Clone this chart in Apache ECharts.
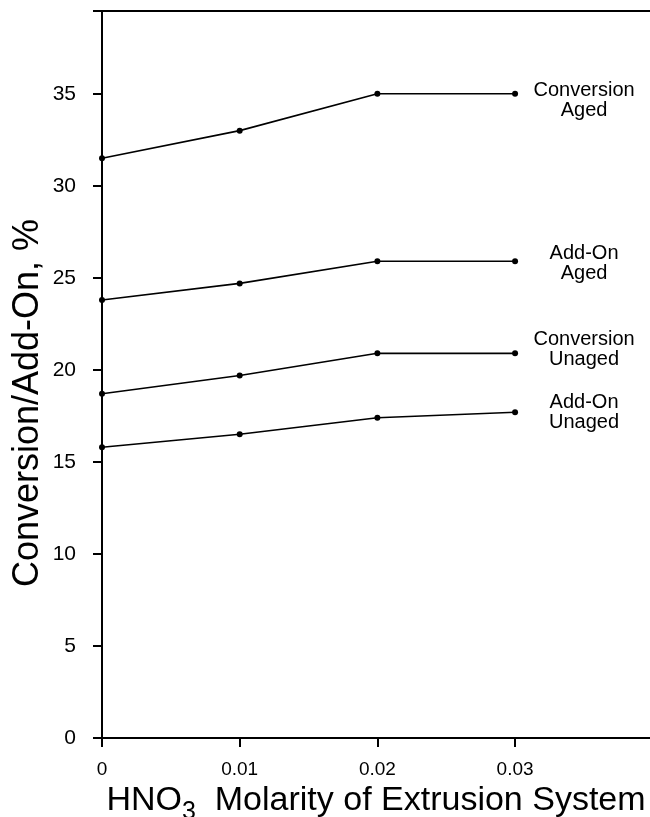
<!DOCTYPE html>
<html>
<head>
<meta charset="utf-8">
<script src="https://cdn.jsdelivr.net/npm/echarts@6/dist/echarts.min.js"></script>
<style>
    html, body { margin: 0; padding: 0; background: #fff; }
    #chart { width: 650px; height: 817px; }
</style>
</head>
<body>
<div id="chart"></div>
<script>
// 数据
var molarity = [0, 0.01, 0.02, 0.03];
var conversionAged = [31.5, 33.0, 35.0, 35.0];
var addOnAged = [23.8, 24.7, 25.9, 25.9];
var conversionUnaged = [18.7, 19.7, 20.9, 20.9];
var addOnUnaged = [15.8, 16.5, 17.4, 17.7];
var seriesNames = ['Conversion\nAged', 'Add-On\nAged', 'Conversion\nUnaged', 'Add-On\nUnaged'];
var yTicks = [0, 5, 10, 15, 20, 25, 30, 35];
var xTicks = [0, 0.01, 0.02, 0.03];

var ink = '#000';
var font = 'Liberation Sans, Arial, Helvetica, sans-serif';

/**
 * 生成一条折线，最后一个点带标签
 */
function makeSeries(name, values, dy) {
    var data = [];
    for (var i = 0; i < values.length; i++) {
        var d = { value: [molarity[i], values[i]] };
        if (i === values.length - 1) d.label = { show: true };
        data.push(d);
    }
    return {
        name: name,
        type: 'line',
        data: data,
        symbol: 'circle',
        symbolSize: 6,
        lineStyle: { color: ink, width: 1.6 },
        itemStyle: { color: ink },
        label: {
            show: false,
            position: 'right',
            distance: 66,
            align: 'center',
            verticalAlign: 'middle',
            offset: [0, dy],
            formatter: name,
            color: ink,
            fontFamily: font,
            fontSize: 20,
            lineHeight: 20
        },
        emphasis: { disabled: true }
    };
}

var chart = echarts.init(document.getElementById('chart'));
var option = {
    animation: false,
    backgroundColor: '#fff',
    grid: { left: 102, right: 0, top: 11, bottom: 79, outerBoundsMode: 'none' },
    xAxis: [{
        type: 'value',
        min: 0,
        max: 0.0398,
        splitLine: { show: false },
        axisLine: { lineStyle: { color: ink, width: 2 } },
        axisTick: { customValues: xTicks, length: 9, lineStyle: { color: ink, width: 2 } },
        axisLabel: {
            customValues: xTicks,
            margin: 22,
            color: ink,
            fontFamily: font,
            fontSize: 19,
            formatter: function(v) { return v === 0 ? '0' : v.toFixed(2); }
        },
        name: '{a|HNO}{sub|3}{a|  Molarity of Extrusion System}',
        nameLocation: 'middle',
        nameGap: 44,
        nameTextStyle: {
            rich: {
                a: { fontFamily: font, fontSize: 34, color: ink, verticalAlign: 'top', lineHeight: 34 },
                sub: { fontFamily: font, fontSize: 25, color: ink, verticalAlign: 'top', padding: [16, 0, 0, 0] }
            }
        }
    }, {
        type: 'value',
        position: 'top',
        min: 0,
        max: 0.0398,
        splitLine: { show: false },
        axisLine: { show: true, lineStyle: { color: ink, width: 2 } },
        axisTick: { show: false },
        axisLabel: { show: false }
    }],
    yAxis: {
        type: 'value',
        min: 0,
        max: 39.5,
        splitLine: { show: false },
        axisLine: { show: true, lineStyle: { color: ink, width: 2 } },
        axisTick: { show: true, customValues: yTicks.concat([39.5]), length: 9, lineStyle: { color: ink, width: 2 } },
        axisLabel: { customValues: yTicks, margin: 26, color: ink, fontFamily: font, fontSize: 21 }
    },
    graphic: [{
        type: 'text',
        x: 28,
        y: 403,
        rotation: Math.PI / 2,
        style: {
            text: 'Conversion/Add-On, %',
            fill: ink,
            font: '36px ' + font,
            textAlign: 'center',
            textVerticalAlign: 'middle'
        }
    }],
    series: [
        makeSeries(seriesNames[0], conversionAged, 7),
        makeSeries(seriesNames[1], addOnAged, 2),
        makeSeries(seriesNames[2], conversionUnaged, -4),
        makeSeries(seriesNames[3], addOnUnaged, 0)
    ]
};
chart.setOption(option);
</script>
</body>
</html>
